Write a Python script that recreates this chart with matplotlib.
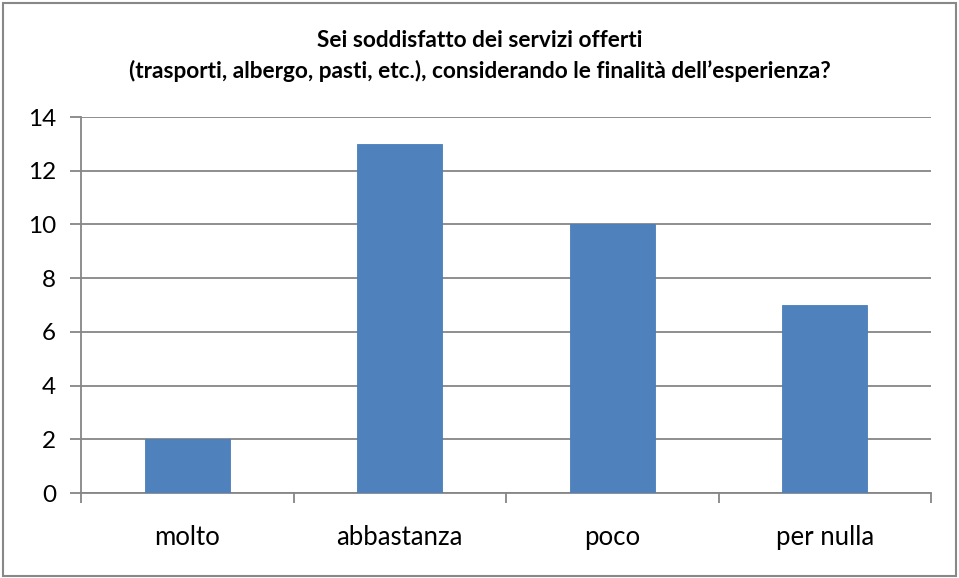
import matplotlib
matplotlib.use("Agg")
import matplotlib.pyplot as plt
from matplotlib.patches import Rectangle
import numpy as np

categories = ["molto", "abbastanza", "poco", "per nulla"]
values = [2, 13, 10, 7]
title = "Sei soddisfatto dei servizi offerti\n(trasporti, albergo, pasti, etc.), considerando le finalità dell\u2019esperienza?"

plt.rcParams['font.family'] = ['Lato', 'DejaVu Sans']

W, H = 959, 578
fig = plt.figure(figsize=(W/100, H/100), dpi=100)
fig.patches.append(Rectangle((0.003, 0.003), 0.994, 0.992, transform=fig.transFigure,
                             fill=False, edgecolor="#888888", linewidth=1.5))

x0, x1 = 81, 931
y0, y1 = 493, 117
ax = fig.add_axes([x0/W, 1 - y0/H, (x1-x0)/W, (y0-y1)/H])

grid_c = "#868686"
x = np.arange(len(categories))
ax.bar(x, values, width=0.4, color="#4F81BD", edgecolor="#4A7EBB", linewidth=0.6, zorder=3)
ax.set_xlim(-0.5, len(categories) - 0.5)
ax.set_ylim(0, 14)
ax.set_yticks(range(0, 15, 2))
ax.yaxis.grid(True, color=grid_c, linewidth=1.3, zorder=0)
ax.set_axisbelow(True)

for s in ["top", "right"]:
    ax.spines[s].set_visible(False)
for s in ["left", "bottom"]:
    ax.spines[s].set_color(grid_c)
    ax.spines[s].set_linewidth(1.3)

ax.set_xticks(x)
ax.set_xticklabels(categories, fontsize=18.5)
ax.tick_params(axis='x', length=0, pad=23)
ax.set_xticks(np.arange(-0.5, len(categories)), minor=True)
ax.tick_params(axis='x', which='minor', length=7, width=1.3, color=grid_c, direction='out')
ax.tick_params(axis='y', length=8, width=1.3, color=grid_c, direction='out', labelsize=17.5, pad=10)

fig.text(480/W, 1 - 56/H, title, ha="center", va="center", fontsize=16.3,
         fontweight="bold", linespacing=1.5)

fig.savefig("out.png", dpi=100)
